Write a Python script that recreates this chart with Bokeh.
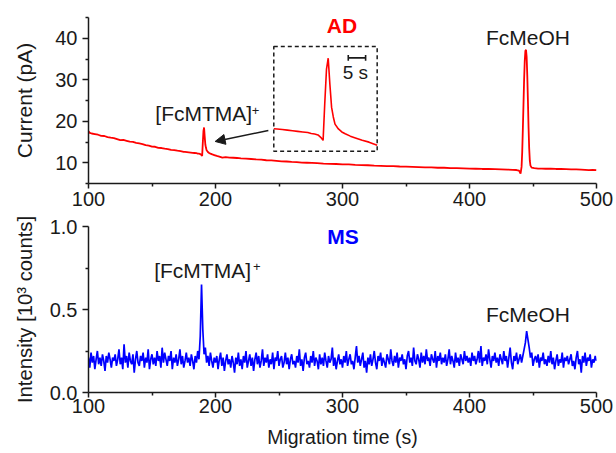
from bokeh.plotting import figure
from bokeh.layouts import column
from bokeh.models import Range1d, FixedTicker, PrintfTickFormatter, Arrow, NormalHead
from bokeh.core.properties import value
from bokeh.embed import file_html
from bokeh.resources import INLINE

FONT = "Liberation Sans"
INK = "#1a1a1a"
RED = "#ff0000"
BLUE = "#0000ff"

# ---------------- axes / ticks ----------------
x_limits = (100, 500)
x_major = [100, 200, 300, 400, 500]
x_minor = [150, 250, 350, 450]
ad_limits = (5, 45)
ad_major = [10, 20, 30, 40]
ad_minor = [5, 15, 25, 35, 45]
ms_limits = (0.0, 1.0)
ms_major = [0.0, 0.5, 1.0]
ms_minor = [0.25, 0.75]

# ---------------- AD trace (current, pA) ----------------
ad_time = [
    100, 101, 102.5, 105, 107.5, 110, 112.5, 115, 117.5, 120,
    122.5, 125, 127.5, 130, 132.5, 135, 137.5, 140, 142.5, 145,
    147.5, 150, 152.5, 155, 157.5, 160, 162.5, 165, 167.5, 170,
    172.5, 175, 176, 177.5, 179, 180.5, 182, 183.5, 185, 186,
    187, 188, 188.8, 189.5, 190, 190.5, 191, 191.5, 192, 192.5,
    193, 194, 195, 196, 197.5, 199, 201, 203, 205.4, 208,
    211, 214, 217, 220, 224, 228, 232, 236, 240, 244,
    248, 252, 256, 260, 264, 268, 272, 276, 280, 285,
    290, 295, 300, 305, 310, 315, 320, 325, 330, 335,
    340, 345, 350, 355, 360, 365, 370, 375, 380, 385,
    390, 395, 400, 405, 410, 415, 420, 425, 430, 434,
    437, 439, 440.2, 441, 441.5, 442, 442.5, 443, 443.5, 444,
    444.5, 445, 445.5, 446, 446.5, 447, 447.5, 448, 449, 451,
    454, 457, 460, 464, 468, 472, 476, 480, 484, 488,
    491, 494, 497, 500,
]
ad_current = [
    17.6, 17.2, 17.05, 16.9, 16.75, 16.5, 16.45, 16.2, 16.05, 15.95,
    15.7, 15.45, 15.5, 15.3, 15.1, 15.05, 14.8, 14.65, 14.5, 14.25,
    14.15, 13.9, 13.85, 13.6, 13.55, 13.4, 13.3, 13.1, 13.05, 12.9,
    12.8, 12.62, 12.6, 12.55, 12.5, 12.45, 12.4, 12.35, 12.3, 12.22,
    12.18, 12.1, 11.9, 11.65, 14.8, 17.6, 18.5, 16.3, 14.4, 13.6,
    13.0, 12.6, 12.35, 12.2, 12.0, 11.85, 11.65, 11.5, 11.25, 11.35,
    11.25, 11.2, 11.15, 11.05, 11.0, 10.9, 10.8, 10.75, 10.6, 10.55,
    10.45, 10.35, 10.3, 10.2, 10.15, 10.05, 10.0, 9.95, 9.9, 9.8,
    9.75, 9.7, 9.6, 9.6, 9.5, 9.45, 9.4, 9.3, 9.25, 9.2,
    9.2, 9.1, 9.05, 9.0, 8.95, 8.9, 8.9, 8.8, 8.8, 8.7,
    8.7, 8.65, 8.6, 8.55, 8.5, 8.5, 8.45, 8.4, 8.35, 8.3,
    8.25, 8.1, 7.4, 9.0, 12.5, 18.0, 24.0, 30.0, 34.5, 37.0,
    37.2, 35.5, 31.0, 25.0, 18.5, 13.5, 10.5, 9.3, 8.8, 8.7,
    8.6, 8.6, 8.55, 8.6, 8.5, 8.5, 8.45, 8.4, 8.4, 8.35,
    8.3, 8.2, 8.3, 8.2,
]

# ---------------- MS trace (10^3 counts), one value per second from 100 s ----------------
ms_start = 100
ms_intensity = [
    0.21, 0.15, 0.24, 0.18, 0.22, 0.14, 0.20, 0.25, 0.17, 0.21, 0.16, 0.23, 0.19, 0.13, 0.22, 0.18, 0.24, 0.20, 0.15, 0.21,
    0.19, 0.23, 0.16, 0.20, 0.26, 0.17, 0.21, 0.14, 0.29, 0.18, 0.22, 0.15, 0.24, 0.19, 0.17, 0.23, 0.12, 0.20, 0.25, 0.18,
    0.16, 0.22, 0.19, 0.24, 0.15, 0.21, 0.18, 0.26, 0.14, 0.20, 0.23, 0.17, 0.21, 0.16, 0.25, 0.19, 0.22, 0.15, 0.27, 0.18,
    0.24, 0.20, 0.16, 0.22, 0.19, 0.25, 0.14, 0.21, 0.18, 0.23, 0.16, 0.20, 0.26, 0.17, 0.22, 0.15, 0.19, 0.24, 0.18, 0.21,
    0.16, 0.23, 0.19, 0.14, 0.22, 0.18, 0.25, 0.20, 0.34, 0.65, 0.38, 0.23, 0.27, 0.18, 0.22, 0.16, 0.24, 0.19, 0.15, 0.21,
    0.18, 0.22, 0.14, 0.20, 0.24, 0.16, 0.21, 0.13, 0.19, 0.23, 0.17, 0.20, 0.15, 0.22, 0.18, 0.12, 0.21, 0.17, 0.24, 0.16,
    0.20, 0.14, 0.22, 0.18, 0.25, 0.15, 0.19, 0.23, 0.16, 0.21, 0.13, 0.20, 0.24, 0.17, 0.22, 0.15, 0.19, 0.26, 0.16, 0.21,
    0.18, 0.23, 0.15, 0.20, 0.17, 0.24, 0.14, 0.21, 0.19, 0.25, 0.16, 0.20, 0.22, 0.15, 0.18, 0.24, 0.17, 0.21, 0.14, 0.20,
    0.23, 0.17, 0.19, 0.15, 0.22, 0.18, 0.26, 0.16, 0.20, 0.13, 0.21, 0.24, 0.17, 0.19, 0.15, 0.22, 0.18, 0.25, 0.16, 0.21,
    0.19, 0.14, 0.23, 0.17, 0.21, 0.16, 0.24, 0.19, 0.15, 0.22, 0.18, 0.20, 0.27, 0.16, 0.21, 0.14, 0.19, 0.23, 0.17, 0.20,
    0.15, 0.22, 0.18, 0.25, 0.16, 0.20, 0.23, 0.17, 0.19, 0.14, 0.21, 0.28, 0.18, 0.22, 0.16, 0.20, 0.24, 0.15, 0.19, 0.12,
    0.21, 0.17, 0.23, 0.16, 0.20, 0.25, 0.18, 0.14, 0.22, 0.19, 0.24, 0.16, 0.21, 0.18, 0.15, 0.23, 0.20, 0.17, 0.26, 0.19,
    0.16, 0.22, 0.18, 0.24, 0.15, 0.21, 0.19, 0.23, 0.17, 0.20, 0.14, 0.22, 0.25, 0.18, 0.21, 0.16, 0.27, 0.19, 0.17, 0.23,
    0.20, 0.15, 0.24, 0.18, 0.22, 0.17, 0.26, 0.19, 0.21, 0.16, 0.23, 0.20, 0.18, 0.25, 0.15, 0.22, 0.19, 0.24, 0.17, 0.21,
    0.18, 0.23, 0.16, 0.20, 0.26, 0.17, 0.22, 0.19, 0.15, 0.24, 0.18, 0.21, 0.16, 0.23, 0.20, 0.17, 0.25, 0.19, 0.22, 0.18,
    0.21, 0.16, 0.24, 0.19, 0.22, 0.17, 0.20, 0.25, 0.18, 0.28, 0.16, 0.21, 0.19, 0.23, 0.17, 0.26, 0.20, 0.15, 0.22, 0.19,
    0.24, 0.18, 0.21, 0.16, 0.23, 0.20, 0.17, 0.25, 0.19, 0.22, 0.15, 0.21, 0.27, 0.18, 0.14, 0.22, 0.19, 0.24, 0.17, 0.20,
    0.23, 0.18, 0.22, 0.26, 0.30, 0.37, 0.32, 0.27, 0.21, 0.24, 0.16, 0.20, 0.22, 0.18, 0.23, 0.15, 0.21, 0.19, 0.24, 0.17,
    0.20, 0.16, 0.22, 0.18, 0.25, 0.17, 0.21, 0.14, 0.19, 0.23, 0.16, 0.20, 0.18, 0.24, 0.15, 0.21, 0.19, 0.22, 0.17, 0.20,
    0.23, 0.16, 0.19, 0.14, 0.21, 0.25, 0.17, 0.20, 0.12, 0.22, 0.18, 0.24, 0.16, 0.21, 0.19, 0.23, 0.15, 0.20, 0.18, 0.22,
    0.19,
]
ms_time = [ms_start + i for i in range(len(ms_intensity))]

# ---------------- inset (zoom of the [FcMTMA]+ AD peak) ----------------
inset_box_t = (245.9, 327.3)          # box edges in main time units
inset_box_current = (12.8, 38.0)      # box edges in main current units
inset_window_t = (175.0, 205.4)       # time window shown inside the box
inset_window_current = (10.75, 19.475)
scale_bar_t = (196.9, 202.0)          # 5 s
scale_bar_current = 18.53

FRAME_H = 166
BL, BR = 88, 20
W = 616
TOP_H = 214
BOT_H = 239
BOT_TOP = 12


def style(p, xl_stand, yl_stand, xt_stand):
    p.grid.visible = False
    p.outline_line_color = None
    p.background_fill_color = "white"
    p.border_fill_color = "white"
    for ax in list(p.xaxis) + list(p.yaxis):
        ax.axis_line_color = INK
        ax.axis_line_width = 1.5
        ax.major_tick_line_color = INK
        ax.major_tick_line_width = 1.5
        ax.minor_tick_line_color = INK
        ax.minor_tick_line_width = 1.5
        ax.major_tick_in = 0
        ax.minor_tick_in = 0
        ax.major_tick_out = 6
        ax.minor_tick_out = 3
        ax.major_label_text_font = FONT
        ax.major_label_text_font_size = "20px"
        ax.major_label_text_color = INK
        ax.axis_label_text_font = FONT
        ax.axis_label_text_font_style = "normal"
        ax.axis_label_text_color = INK
    p.xaxis.axis_label_text_font_size = "19.5px"
    p.yaxis.axis_label_text_font_size = "21px"
    p.xaxis.major_tick_out = 5
    p.xaxis.major_label_standoff = xt_stand
    p.xaxis.axis_label_standoff = xl_stand
    p.yaxis.major_label_standoff = 5
    p.yaxis.axis_label_standoff = yl_stand
    p.xaxis.ticker = FixedTicker(ticks=x_major, minor_ticks=x_minor)


def label(p, x, y, text, size="21px", color=INK, align="left", bold=False, **kw):
    # y is the vertical middle of the text
    p.text(x=[x], y=[y], text=[text], text_font=value(FONT), text_font_size=value(size),
           text_color=color, text_align=align, text_baseline="middle",
           text_font_style="bold" if bold else "normal", **kw)


# ---------------- top panel: AD ----------------
p1 = figure(width=W, height=TOP_H, x_range=Range1d(*x_limits), y_range=Range1d(*ad_limits),
            output_backend="svg", toolbar_location=None,
            min_border_left=BL, min_border_right=BR, min_border_top=17,
            min_border_bottom=TOP_H - 17 - FRAME_H)
style(p1, 5, 16, 3)
p1.yaxis.axis_label = "Current (pA)"
p1.yaxis.ticker = FixedTicker(ticks=ad_major, minor_ticks=ad_minor)

p1.line(ad_time, ad_current, line_color=RED, line_width=1.8)

# inset ranges mapping the inset window onto the dashed box
bx0, bx1 = inset_box_t
by0, by1 = inset_box_current
wx0, wx1 = inset_window_t
wy0, wy1 = inset_window_current
kx = (wx1 - wx0) / (bx1 - bx0)
ky = (wy1 - wy0) / (by1 - by0)
p1.extra_x_ranges = {"ix": Range1d(wx0 + (x_limits[0] - bx0) * kx, wx0 + (x_limits[1] - bx0) * kx)}
p1.extra_y_ranges = {"iy": Range1d(wy0 + (ad_limits[0] - by0) * ky, wy0 + (ad_limits[1] - by0) * ky)}

inset_t = [t for t in ad_time if wx0 <= t <= wx1]
inset_c = [c for t, c in zip(ad_time, ad_current) if wx0 <= t <= wx1]
p1.line(inset_t, inset_c, line_color=RED, line_width=1.6, x_range_name="ix", y_range_name="iy")

p1.quad(left=[bx0], right=[bx1], bottom=[by0], top=[by1], fill_color=None,
        line_color=INK, line_width=1.5, line_dash="4 3")

sb0, sb1 = scale_bar_t
p1.segment(x0=[sb0, sb0, sb1], x1=[sb1, sb0, sb1],
           y0=[scale_bar_current, scale_bar_current - 0.25, scale_bar_current - 0.25],
           y1=[scale_bar_current, scale_bar_current + 0.25, scale_bar_current + 0.25],
           line_color=INK, line_width=1.6, x_range_name="ix", y_range_name="iy")
label(p1, 199.0, 17.3, "5 s", size="19px", align="center", x_range_name="ix", y_range_name="iy")

label(p1, 299.6, 43.0, "AD", color=RED, align="center", bold=True)
label(p1, 446.0, 40.1, "FcMeOH", align="center")
label(p1, 152.6, 21.87, "[FcMTMA]")
label(p1, 228.6, 22.6, "+", size="13px")

p1.add_layout(Arrow(end=NormalHead(size=10, fill_color=INK, line_color=INK, line_width=1),
                    x_start=241.6, y_start=17.78, x_end=199.7, y_end=15.13,
                    line_color=INK, line_width=1.5))

# ---------------- bottom panel: MS ----------------
p2 = figure(width=W, height=BOT_H, x_range=Range1d(*x_limits), y_range=Range1d(*ms_limits),
            output_backend="svg", toolbar_location=None,
            min_border_left=BL, min_border_right=BR, min_border_top=BOT_TOP,
            min_border_bottom=BOT_H - BOT_TOP - FRAME_H)
style(p2, 10, 11, 1)
p2.yaxis.axis_label_text_font_size = "20.3px"
p2.xaxis.axis_label = "Migration time (s)"
p2.yaxis.axis_label = "Intensity [10\u00b3 counts]"
p2.yaxis.ticker = FixedTicker(ticks=ms_major, minor_ticks=ms_minor)
p2.yaxis.formatter = PrintfTickFormatter(format="%.1f")

p2.line(ms_time, ms_intensity, line_color=BLUE, line_width=1.7)

label(p2, 300.4, 0.941, "MS", color=BLUE, align="center", bold=True)
label(p2, 151.7, 0.735, "[FcMTMA]")
label(p2, 229.6, 0.760, "+", size="13px")
label(p2, 446.0, 0.470, "FcMeOH", align="center")

layout = column(p1, p2)
open("out.html", "w").write(file_html(layout, INLINE))
